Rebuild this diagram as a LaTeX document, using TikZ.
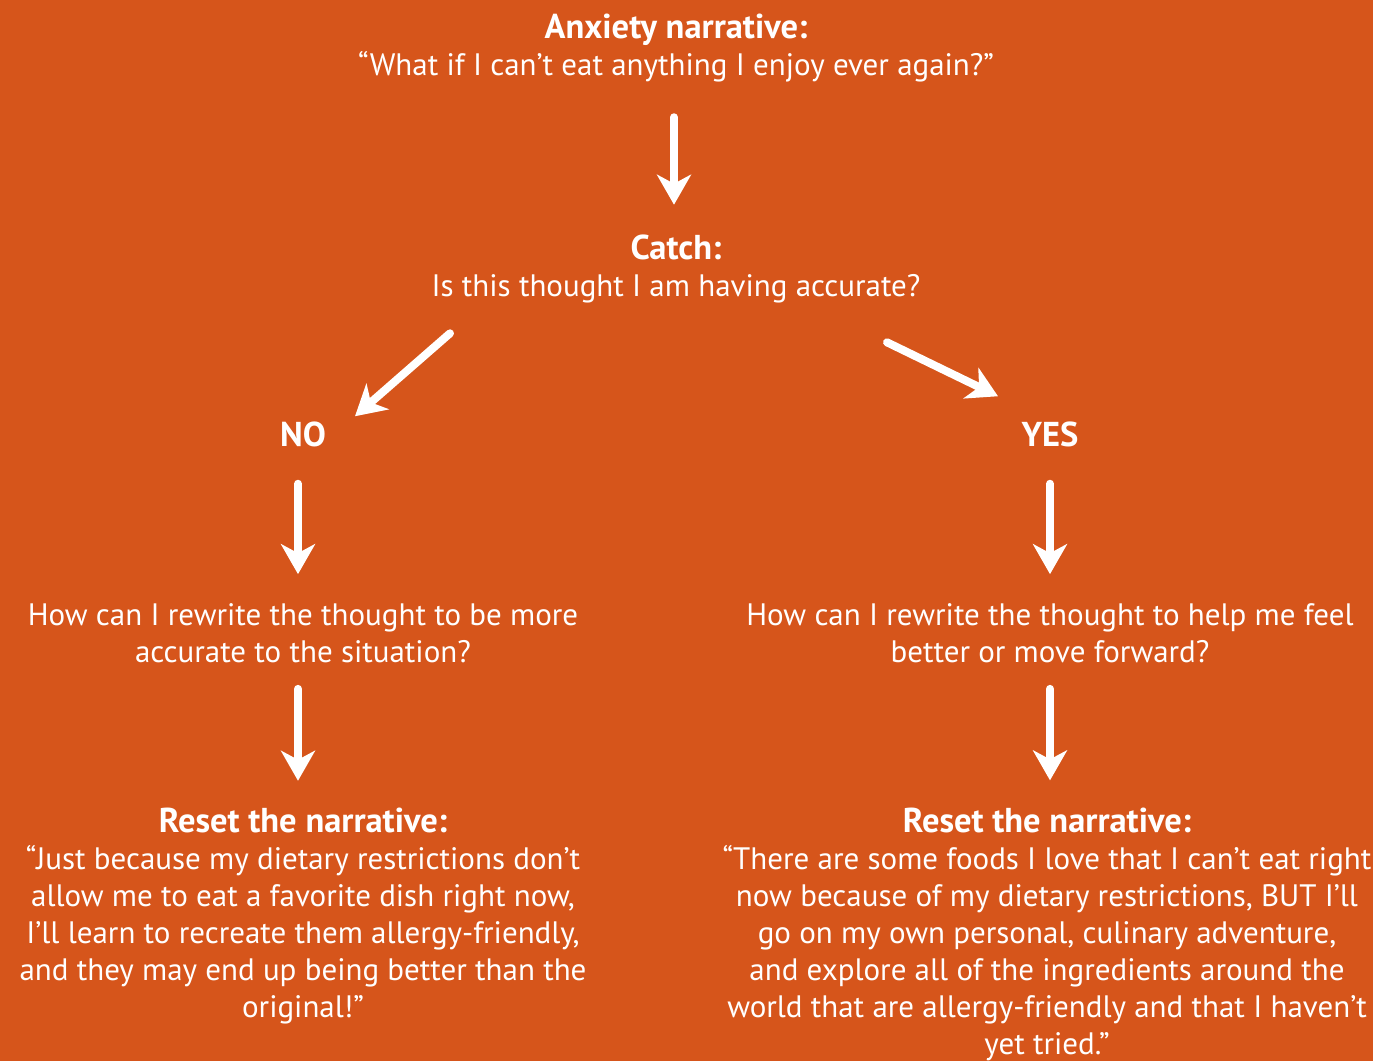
\documentclass[tikz,border=0pt]{standalone}
\usepackage{fontspec}
\setmainfont{PT Sans}
\usetikzlibrary{arrows.meta}
\definecolor{bgc}{RGB}{214,85,27}
\newcommand{\ttlfont}{\fontsize{34.5}{37}\selectfont\bfseries}
\tikzset{
  txt/.style={text=white, align=center, inner sep=0pt, font=\fontsize{31}{37}\selectfont},
  arr/.style={draw=white, line width=8pt, line cap=round, -{Stealth[length=30pt,width=34pt,inset=9pt]}},
}
\begin{document}
\begin{tikzpicture}[x=1pt,y=-1pt]
\fill[bgc] (0,0) rectangle (1373,1061);
\useasboundingbox (0,0) rectangle (1373,1061);
\node[txt] (top) at (676,48) {{\ttlfont Anxiety narrative:}\\“What if I can’t eat anything I enjoy ever again?”};
\node[txt] (catch) at (676,269) {{\ttlfont Catch:}\\Is this thought I am having accurate?};
\node[txt] (no) at (303,434) {{\ttlfont NO}};
\node[txt] (yes) at (1050,434) {{\ttlfont YES}};
\node[txt] (ql) at (303,633) {How can I rewrite the thought to be more\\accurate to the situation?};
\node[txt] (qr) at (1050,633) {How can I rewrite the thought to help me feel\\better or move forward?};
\node[txt] (rl) at (303,916) {{\ttlfont Reset the narrative:}\\“Just because my dietary restrictions don’t\\allow me to eat a favorite dish right now,\\I’ll learn to recreate them allergy-friendly,\\and they may end up being better than the\\original!”};
\node[txt] (rr) at (1047,934) {{\ttlfont Reset the narrative:}\\“There are some foods I love that I can’t eat right\\now because of my dietary restrictions, BUT I’ll\\go on my own personal, culinary adventure,\\and explore all of the ingredients around the\\world that are allergy-friendly and that I haven’t\\yet tried.”};
\draw[arr] ([xshift=-2pt,yshift=-35pt]top.south) -- ([xshift=-2pt,yshift=30pt]catch.north);
\draw[arr] ([xshift=-226pt,yshift=-30pt]catch.south) -- ([xshift=52pt,yshift=5pt]no.north);
\draw[arr] ([xshift=211pt,yshift=-39pt]catch.south) -- ([xshift=-52pt,yshift=25pt]yes.north);
\draw[arr] ([xshift=-5pt,yshift=-37pt]no.south) -- ([xshift=-5pt,yshift=29pt]ql.north);
\draw[arr] ([yshift=-37pt]yes.south) -- ([yshift=29pt]qr.north);
\draw[arr] ([xshift=-5pt,yshift=-26pt]ql.south) -- ([xshift=-5pt,yshift=27pt]rl.north);
\draw[arr] ([yshift=-26pt]qr.south) -- ([xshift=3pt,yshift=27pt]rr.north);
\end{tikzpicture}
\end{document}
